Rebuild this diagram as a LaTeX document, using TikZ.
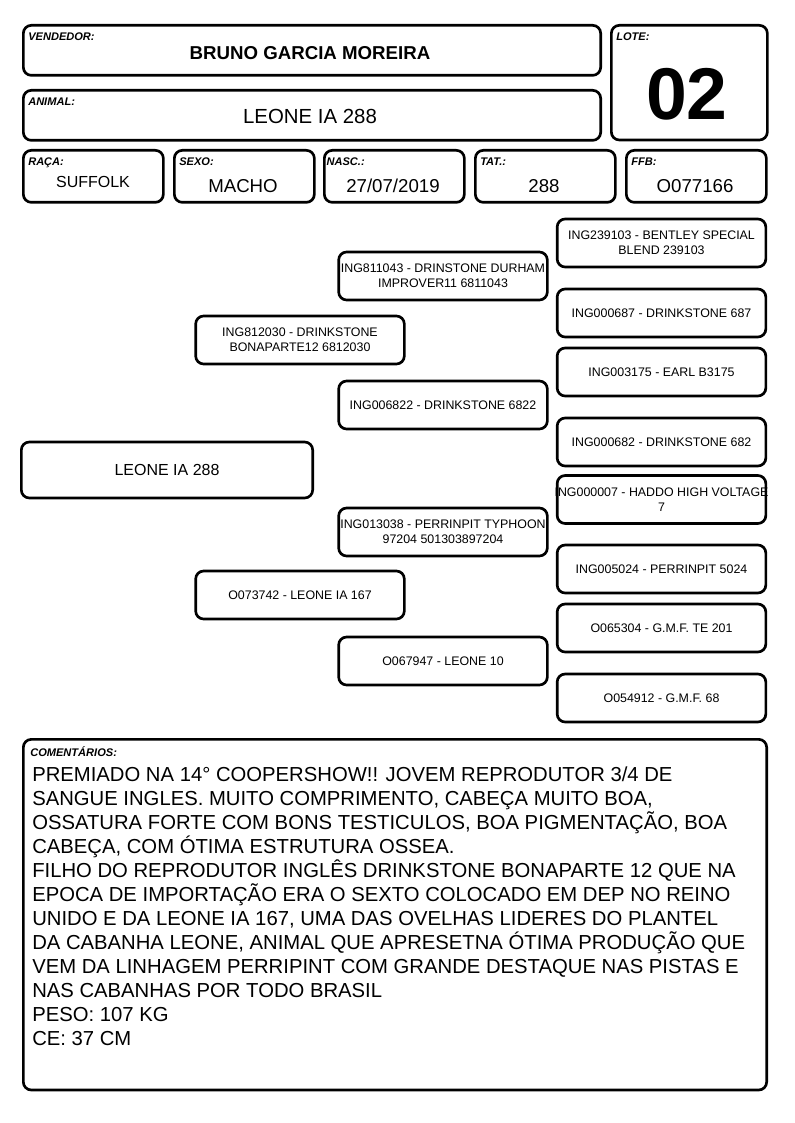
\documentclass[tikz,border=0pt]{standalone}
\usepackage{fontspec}
\setmainfont{Liberation Sans}
\usepackage{tikz}
\usetikzlibrary{positioning}

\tikzset{
    card/.style={draw, line width=2pt, rounded corners=6pt, inner sep=0pt, anchor=north west},
    tag/.style={font=\fontsize{8.3}{9}\selectfont\bfseries\itshape, inner sep=0pt},
    val/.style={font=\fontsize{14}{16}\selectfont, inner sep=0pt},
    pedbox/.style={draw, line width=2pt, rounded corners=6pt, inner sep=0pt,
        minimum width=156.5pt, minimum height=36pt, align=center,
        font=\fontsize{9.3}{11}\selectfont},
    pedtext/.style={inner sep=0pt, align=center, font=\fontsize{9.3}{11}\selectfont},
}

\begin{document}
\begin{tikzpicture}[x=0.75pt, y=-0.75pt]
            \useasboundingbox (0,0) rectangle (794,1123);

            % cabecalho
            \node[card, minimum width=433pt, minimum height=37.5pt] (vendedor) at (22,24) {};
            \node[tag, below right=6.5pt and 4.5pt] at (vendedor.north west) {VENDEDOR:};
            \node[val, font=\fontsize{14}{16}\selectfont\bfseries] (vendname) at (310,53) {BRUNO GARCIA MOREIRA};

            \node[card, minimum width=433pt, minimum height=37.5pt] (animal) at (22,89) {};
            \node[tag, below right=6.5pt and 4.5pt] at (animal.north west) {ANIMAL:};
            \node[val, font=\fontsize{15.3}{17}\selectfont] (animalname) at (310,116) {LEONE IA 288};

            \node[card, minimum width=117pt, minimum height=86pt] (lote) at (610,24) {};
            \node[tag, below right=6.5pt and 4.5pt] at (lote.north west) {LOTE:};
            \node[val, font=\fontsize{55}{57}\selectfont\bfseries] (lotenum) at (687,94) {02};

            \node[card, minimum width=105pt, minimum height=39pt] (raca) at (22,149) {};
            \node[tag, below right=6.5pt and 4.5pt] at (raca.north west) {RAÇA:};
            \node[val, font=\fontsize{12}{14}\selectfont] (racaval) at (93,182) {SUFFOLK};

            \node[card, minimum width=105pt, minimum height=39pt] (sexo) at (173,149) {};
            \node[tag, below right=6.5pt and 4.5pt] at (sexo.north west) {SEXO:};
            \node[val] (sexoval) at (243,186) {MACHO};

            \node[card, minimum width=105pt, minimum height=39pt] (nasc) at (323,149) {};
            \node[tag, below right=6.5pt and 2.5pt] at (nasc.north west) {NASC.:};
            \node[val] (nascval) at (393,186) {27/07/2019};

            \node[card, minimum width=105pt, minimum height=39pt] (tat) at (474,149) {};
            \node[tag, below right=6.5pt and 4.5pt] at (tat.north west) {TAT.:};
            \node[val] (tatval) at (544,186) {288};

            \node[card, minimum width=105pt, minimum height=39pt] (ffb) at (625,149) {};
            \node[tag, below right=6.5pt and 4.5pt] at (ffb.north west) {FFB:};
            \node[val] (ffbval) at (695,186) {O077166};

            % genealogia
            \node[pedbox, minimum width=218.5pt, minimum height=42pt, font=\fontsize{12}{14}\selectfont] (animalped) at (167,470) {LEONE IA 288};

            \node[pedbox] (pai) at (300,340) {ING812030 - DRINKSTONE\\BONAPARTE12 6812030};
            \node[pedbox] (mae) at (300,595) {O073742 - LEONE IA 167};

            \node[pedbox] (avopp) at (443,276) {ING811043 - DRINSTONE DURHAM\\IMPROVER11 6811043};
            \node[pedbox] (avopm) at (443,405) {ING006822 - DRINKSTONE 6822};
            \node[pedbox] (avomp) at (443,532) {ING013038 - PERRINPIT TYPHOON\\97204 501303897204};
            \node[pedbox] (avomm) at (443,661) {O067947 - LEONE 10};

            \node[pedbox] (bis1) at (661.5,243) {ING239103 - BENTLEY SPECIAL\\BLEND 239103};
            \node[pedbox] (bis2) at (661.5,313) {ING000687 - DRINKSTONE 687};
            \node[pedbox] (bis3) at (661.5,372) {ING003175 - EARL B3175};
            \node[pedbox] (bis4) at (661.5,442) {ING000682 - DRINKSTONE 682};
            \node[pedbox] (bis5) at (661.5,499.5) {};
            \node[pedtext] (bis5txt) at (bis5) {ING000007 - HADDO HIGH VOLTAGE\\7};
            \node[pedbox] (bis6) at (661.5,569) {ING005024 - PERRINPIT 5024};
            \node[pedbox] (bis7) at (661.5,628) {O065304 - G.M.F. TE 201};
            \node[pedbox] (bis8) at (661.5,698) {O054912 - G.M.F. 68};

            % comentarios
            \node[card, minimum width=557.5pt, minimum height=263pt] (coment) at (22,738) {};
            \node[tag, below right=6.5pt and 6pt] at (coment.north west) {COMENTÁRIOS:};
            \node[inner sep=0pt, anchor=north west, align=left, font=\fontsize{15.2}{18}\selectfont] (comenttxt) at (32,767) {%
                PREMIADO NA 14° COOPERSHOW!! JOVEM REPRODUTOR 3/4 DE\\
                SANGUE INGLES. MUITO COMPRIMENTO, CABEÇA MUITO BOA,\\
                OSSATURA FORTE COM BONS TESTICULOS, BOA PIGMENTAÇÃO, BOA\\
                CABEÇA, COM ÓTIMA ESTRUTURA OSSEA.\\
                FILHO DO REPRODUTOR INGLÊS DRINKSTONE BONAPARTE 12 QUE NA\\
                EPOCA DE IMPORTAÇÃO ERA O SEXTO COLOCADO EM DEP NO REINO\\
                UNIDO E DA LEONE IA 167, UMA DAS OVELHAS LIDERES DO PLANTEL\\
                DA CABANHA LEONE, ANIMAL QUE APRESETNA ÓTIMA PRODUÇÃO QUE\\
                VEM DA LINHAGEM PERRIPINT COM GRANDE DESTAQUE NAS PISTAS E\\
                NAS CABANHAS POR TODO BRASIL\\
                PESO: 107 KG\\
                CE: 37 CM};
        \end{tikzpicture}
\end{document}
